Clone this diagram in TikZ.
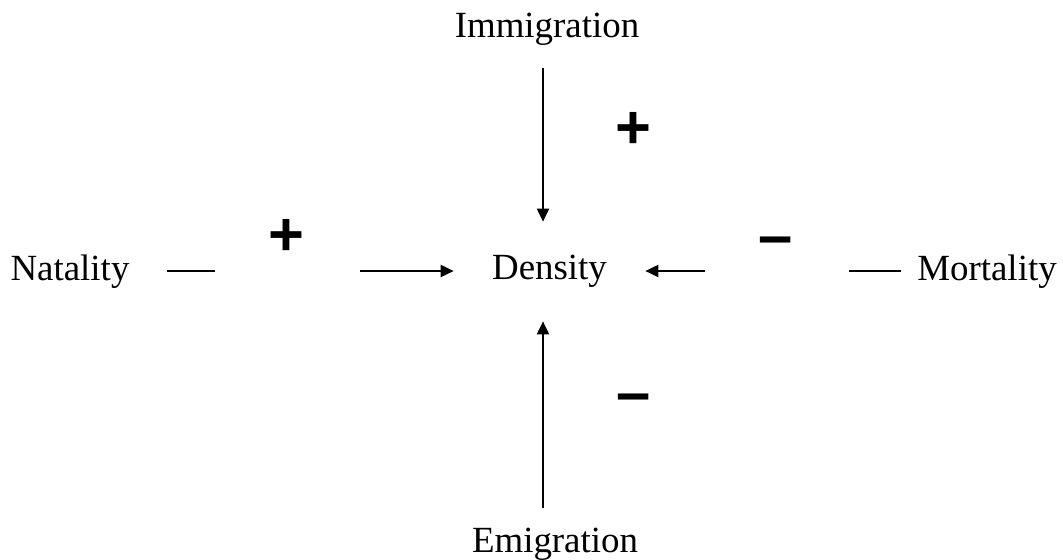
\documentclass[tikz,border=0pt]{standalone}
\usepackage{fontspec}
\setmainfont{Liberation Serif}
\newfontfamily\signfont{Liberation Sans}
\usetikzlibrary{arrows.meta}

\begin{document}
\begin{tikzpicture}[
  x=0.02cm, y=-0.02cm,
  >={Triangle[length=0.26cm, width=0.24cm]},
  factor/.style={font=\fontsize{21}{25}\selectfont, anchor=base, inner sep=0pt},
  sign/.style={font=\signfont\bfseries\fontsize{35}{40}\selectfont, inner sep=0pt},
  link/.style={line width=1.1pt},
  arrow/.style={link, ->}
]
\useasboundingbox (0,0) rectangle (1063,559);

% Centre
\node[factor, anchor=center, minimum width=3.82cm, minimum height=1.98cm]
  (density) at (549.5,271.5) {Density};

% Factors
\node[factor] (natality)    at (70,280)  {Natality};
\node[factor] (mortality)   at (987,280) {Mortality};
\node[factor] (immigration) at (547,37)  {Immigration};
\node[factor] (emigration)  at (555,552) {Emigration};

% Signs
\node[sign] (natsign) at (286,237) {+};
\node[sign] (immsign) at (633,130) {+};
\node[sign] (morsign) at (776,247) {–};
\node[sign] (emisign) at (634,404) {–};

% Free ends
\coordinate (natL) at (167,271);
\coordinate (natR) at (215,271);
\coordinate (natA) at (360,271);
\coordinate (morL) at (849,271);
\coordinate (morR) at (901,271);
\coordinate (morA) at (705,271);
\coordinate (immA) at (543,68);
\coordinate (emiA) at (543,508);

% Connectors
\draw[link]  (natL) -- (natR);
\draw[arrow] (natA) -- (natA -| density.west);
\draw[link]  (morL) -- (morR);
\draw[arrow] (morA) -- (morA -| density.east);
\draw[arrow] (immA) -- (immA |- density.north);
\draw[arrow] (emiA) -- (emiA |- density.south);

\end{tikzpicture}
\end{document}
